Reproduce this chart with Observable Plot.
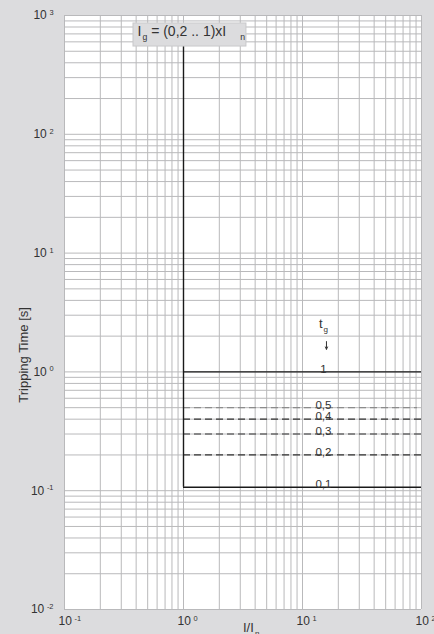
<!DOCTYPE html>
<html>
<head>
<meta charset="utf-8">
<script src="https://cdn.jsdelivr.net/npm/d3@7"></script>
<script src="https://cdn.jsdelivr.net/npm/@observablehq/plot@0.6"></script>
<style>
  html, body { margin: 0; padding: 0; background: #dcdcde; }
  #chart svg { display: block; }
</style>
</head>
<body>
<div id="chart"></div>
<script>
// ---- data ----
const xDecades = [0.1, 1, 10, 100];               // I/In tick values
const yDecades = [0.01, 0.1, 1, 10, 100, 1000];   // tripping time tick values
const minorMultipliers = [1, 2, 3, 4, 5, 6, 7, 8, 9];
const pickupMultiple = 1;                          // vertical branch at I/In = 1
const verticalTop = 600;                           // vertical branch runs up under the box
const tgLabels = ["1", "0,5", "0,4", "0,3", "0,2", "0,1"];
const tgTimes  = [1, 0.5, 0.4, 0.3, 0.2, 0.107];
const tgEnds   = [100, 92.5, 100, 100, 100, 100];
const titleText = "I_{g} = (0,2 .. 1)xI_{\u2003\u2002n}";
const yTitle = "Tripping Time [s]";
const xTitle = "I/I_{n}";
const tgHeader = "t_{g}";

// ---- derived ----
const gridOf = (decs) => decs.slice(0, -1).flatMap(d => minorMultipliers.map(k => d * k)).concat([decs[decs.length - 1]]);
const xGrid = gridOf(xDecades);
const yGrid = gridOf(yDecades);
const levels = tgTimes.map((t, i) => ({t, label: tgLabels[i], end: tgEnds[i], start: pickupMultiple}));
const solidLevels = levels.filter((d, i) => i === 0 || i === levels.length - 1);
const lightLevels = levels.filter(d => d.label === "0,5");
const dashLevels = levels.filter((d, i) => i > 0 && i < levels.length - 1 && d.label !== "0,5");
const expFmt = d => `10^{${Math.round(Math.log10(d))}}`;

const font = "'Liberation Sans Narrow', 'Arial Narrow', 'Liberation Sans', Arial, sans-serif";
const gridColor = "#b9b9bb";
const ink = "#1a1a1a";
const labelX = 15;

const chart = Plot.plot({
  width: 434,
  height: 634,
  marginLeft: 64,
  marginRight: 13,
  marginTop: 15,
  marginBottom: 25,
  style: {background: "transparent", fontFamily: font, fontSize: "12px", color: "#333"},
  x: {type: "log", domain: [0.1, 100]},
  y: {type: "log", domain: [0.01, 1000]},
  marks: [
    Plot.frame({fill: "white", stroke: null}),
    Plot.gridX(xGrid, {stroke: gridColor, strokeOpacity: 1, strokeWidth: 1}),
    Plot.gridY(yGrid, {stroke: gridColor, strokeOpacity: 1, strokeWidth: 1}),
    Plot.ruleY(dashLevels, {y: "t", x1: "start", x2: "end", stroke: "#333", strokeWidth: 1.2, strokeDasharray: "7,4"}),
    Plot.ruleY(lightLevels, {y: "t", x1: "start", x2: "end", stroke: "#8c8c8c", strokeWidth: 1.2, strokeDasharray: "7,4"}),
    Plot.ruleY(solidLevels, {y: "t", x1: "start", x2: "end", stroke: ink, strokeWidth: 1.4}),
    Plot.ruleX([pickupMultiple], {y1: tgTimes[tgTimes.length - 1], y2: verticalTop, stroke: ink, strokeWidth: 1.4}),
    Plot.text(levels, {x: labelX, y: "t", text: "label", lineAnchor: "bottom", dy: 1, fontSize: 11.5, fill: "#333"}),
    Plot.text([tgHeader], {x: labelX, y: 2.34, text: d => d, lineAnchor: "middle", dy: -4, fontSize: 13, fill: "#333"}),
    Plot.arrow([{x: 15.9, y1: 1.8, y2: 1.55}], {x1: "x", x2: "x", y1: "y1", y2: "y2", stroke: "#333", strokeWidth: 1, headLength: 4, headAngle: 50}),
    Plot.rect([{x1: 0.38, x2: 3.38, y1: 548, y2: 857}], {x1: "x1", x2: "x2", y1: "y1", y2: "y2", fill: "#dcdcde", stroke: "#c9c9cb", strokeWidth: 1}),
    Plot.text([titleText], {x: 0.41, y: 730, text: d => d, textAnchor: "start", lineAnchor: "middle", fontSize: 14, fill: "#333"}),
    Plot.axisX(xDecades, {tickFormat: expFmt, tickSize: 0, tickPadding: 7, textAnchor: "start", dx: -6, fontSize: 12, label: null, fill: "#333"}),
    Plot.axisY(yDecades, {tickFormat: expFmt, tickSize: 0, tickPadding: 0, dx: -11, fontSize: 12, label: null, fill: "#333"}),
    Plot.text([yTitle], {frameAnchor: "left", y: 1.39, text: d => d, rotate: -90, dx: -40.5, textAnchor: "middle", lineAnchor: "middle", fontSize: 13, fill: "#333"}),
    Plot.text([xTitle], {frameAnchor: "bottom", text: d => d, textAnchor: "start", dx: 0, dy: 18, lineAnchor: "middle", fontSize: 13, fill: "#333"})
  ]
});

document.getElementById("chart").append(chart);

// rich text: ^{..} superscript, _{..} subscript
const svgns = "http://www.w3.org/2000/svg";
function rich(el) {
  const s = el.textContent;
  if (!/[\^_]\{/.test(s)) return;
  const fs = parseFloat(getComputedStyle(el).fontSize) || 12;
  while (el.firstChild) el.removeChild(el.firstChild);
  const re = /([\^_])\{([^}]*)\}/g;
  let last = 0, m, cur = 0;
  const add = (txt, size, shift, dx) => {
    const t = document.createElementNS(svgns, "tspan");
    t.textContent = txt;
    if (size) t.setAttribute("font-size", size);
    const dy = shift - cur;
    if (dy) t.setAttribute("dy", dy);
    if (dx) t.setAttribute("dx", dx);
    cur = shift;
    el.appendChild(t);
  };
  while ((m = re.exec(s))) {
    if (m.index > last) add(s.slice(last, m.index), null, 0, 0);
    if (m[1] === "^") add(m[2], fs * 0.62, -fs * 0.36, fs * 0.22);
    else add(m[2], fs * 0.62, fs * 0.3, fs * 0.08);
    last = re.lastIndex;
  }
  if (last < s.length) add(s.slice(last), null, 0, 0);
}
chart.querySelectorAll("text").forEach(t => {
  if (t.querySelector("tspan")) t.querySelectorAll("tspan").forEach(rich);
  else rich(t);
});
</script>
</body>
</html>
